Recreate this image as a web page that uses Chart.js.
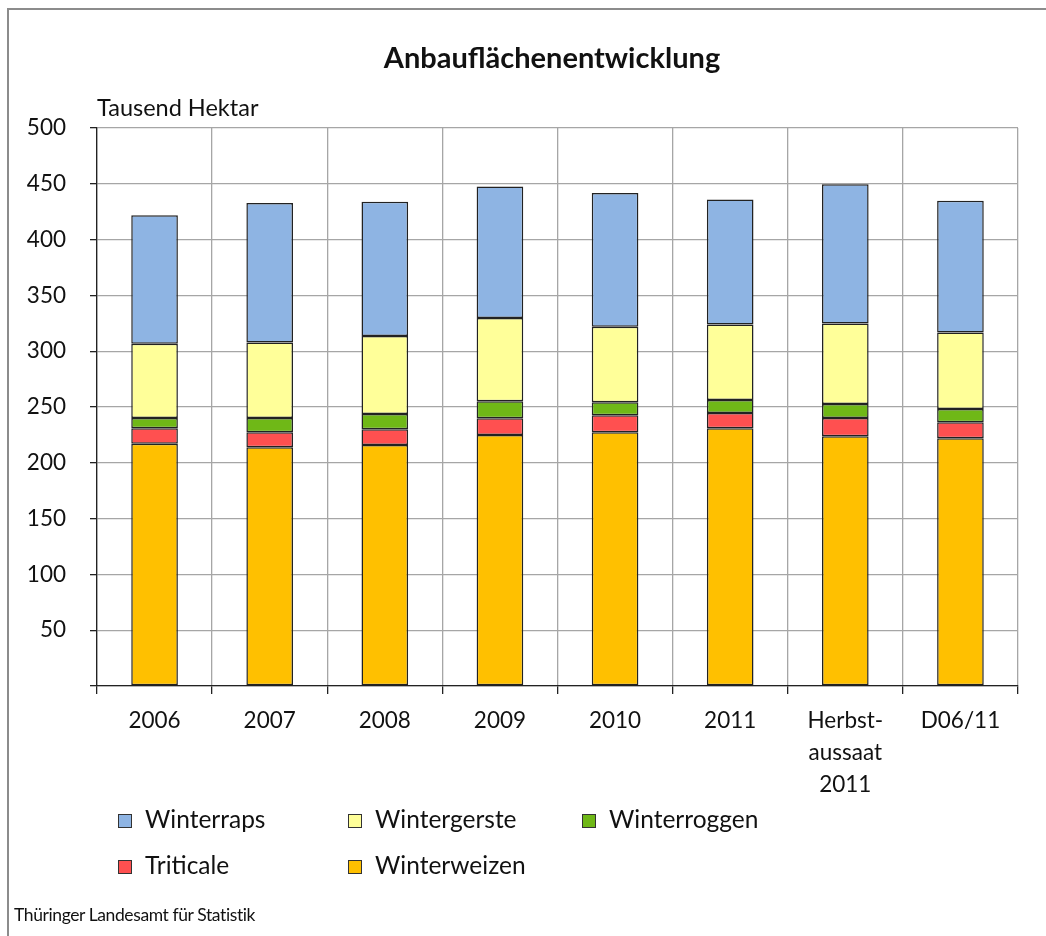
<!DOCTYPE html>
<html lang="de">
<head>
<meta charset="utf-8">
<script src="https://cdn.jsdelivr.net/npm/chart.js@4"></script>
<style>
  body { margin: 0; background: #fff; font-family: Lato, "Open Sans", sans-serif; color: #111; }
  #wrap { position: relative; width: 1046px; height: 936px; overflow: hidden; }
  #frame { position: absolute; left: 7px; top: 8px; width: 1060px; height: 960px; border: 2px solid #8c8c8c; box-sizing: border-box; }
  #chart { position: absolute; left: 0; top: 0; }
  .txt { position: absolute; white-space: nowrap; }
  #title { left: 0; width: 1104px; top: 39px; text-align: center; font-weight: bold; font-size: 29px; }
  #unit { left: 97px; top: 93px; font-size: 23.5px; }
  .leg { position: absolute; font-size: 24.5px; white-space: nowrap; }
  .leg i { position: absolute; left: 0; top: 8px; width: 12px; height: 12px; border: 1px solid #333; }
  .leg span { position: absolute; left: 27px; top: -2px; }
  #footer { left: 14px; top: 904px; font-size: 17.5px; letter-spacing: -0.4px; }
</style>
</head>
<body>
<div id="wrap">
  <div id="frame"></div>
  <canvas id="chart" width="1046" height="936"></canvas>
  <div class="txt" id="title">Anbauflächenentwicklung</div>
  <div class="txt" id="unit">Tausend Hektar</div>
  <div id="legend"></div>
  <div class="txt" id="footer">Thüringer Landesamt für Statistik</div>
</div>
<script>
const kategorien = ["2006", "2007", "2008", "2009", "2010", "2011", ["Herbst-", "aussaat", "2011"], "D06/11"];

const winterweizen = [217, 214, 216, 225, 227.4, 231, 223.8, 222];
const triticale    = [14, 13.4, 14, 15, 15.2, 13.7, 16.4, 14.3];
const winterroggen = [9.2, 12.8, 13.8, 15.2, 11.6, 11.6, 12.6, 12];
const wintergerste = [66.5, 67.7, 69.8, 74.6, 67.8, 67.7, 72.1, 68.5];
const winterraps   = [115.1, 124.9, 120.4, 117.7, 119.8, 112, 124.6, 118.1];

const reihen = [
  { label: "Winterweizen", data: winterweizen, color: "#FFC000" },
  { label: "Triticale", data: triticale, color: "#FF5050" },
  { label: "Winterroggen", data: winterroggen, color: "#6FB817" },
  { label: "Wintergerste", data: wintergerste, color: "#FFFF99" },
  { label: "Winterraps", data: winterraps, color: "#8EB4E3" },
];

const schrift = "Lato, 'Open Sans', sans-serif";

const config = {
  type: "bar",
  data: {
    labels: kategorien,
    datasets: reihen.map((r) => ({
      label: r.label,
      data: r.data,
      backgroundColor: r.color,
      borderColor: "#222",
      borderWidth: 1.5,
      borderSkipped: false,
      barPercentage: 0.405,
      categoryPercentage: 1,
    })),
  },
  options: {
    responsive: false,
    animation: false,
    layout: { padding: { left: 0, top: 128, right: 28, bottom: 100 } },
    plugins: {
      legend: { display: false },
      title: { display: false },
      tooltip: { enabled: false },
    },
    scales: {
      x: {
        stacked: true,
        afterFit: (s) => { s.height = 150; },
        grid: { color: "#a6a6a6", lineWidth: 1.3, tickLength: 8, tickColor: "#222", offset: true },
        border: { color: "#222", width: 1.3 },
        ticks: { color: "#111", font: { family: schrift, size: 22.5, lineHeight: 1.42 }, padding: 11, maxRotation: 0 },
      },
      y: {
        stacked: true,
        min: 0,
        max: 500,
        afterFit: (s) => { s.width = 97; },
        grid: { color: "#a6a6a6", lineWidth: 1.3, tickLength: 7, tickColor: "#222" },
        border: { color: "#222", width: 1.3 },
        ticks: {
          stepSize: 50,
          color: "#111",
          padding: 24,
          font: { family: schrift, size: 22.5 },
          callback: (v) => (v === 0 ? "" : v),
        },
      },
    },
  },
};

new Chart(document.getElementById("chart").getContext("2d"), config);

// Legende in drei Spalten wie im Original
const legPos = [
  ["Winterraps", 118, 806], ["Wintergerste", 348, 806], ["Winterroggen", 582, 806],
  ["Triticale", 118, 852], ["Winterweizen", 348, 852],
];
const legDiv = document.getElementById("legend");
legPos.forEach(([name, x, y]) => {
  const r = reihen.find((d) => d.label === name);
  const el = document.createElement("div");
  el.className = "leg";
  el.style.left = x + "px";
  el.style.top = y + "px";
  el.innerHTML = '<i style="background:' + r.color + '"></i><span>' + name + "</span>";
  legDiv.appendChild(el);
});
</script>
</body>
</html>
